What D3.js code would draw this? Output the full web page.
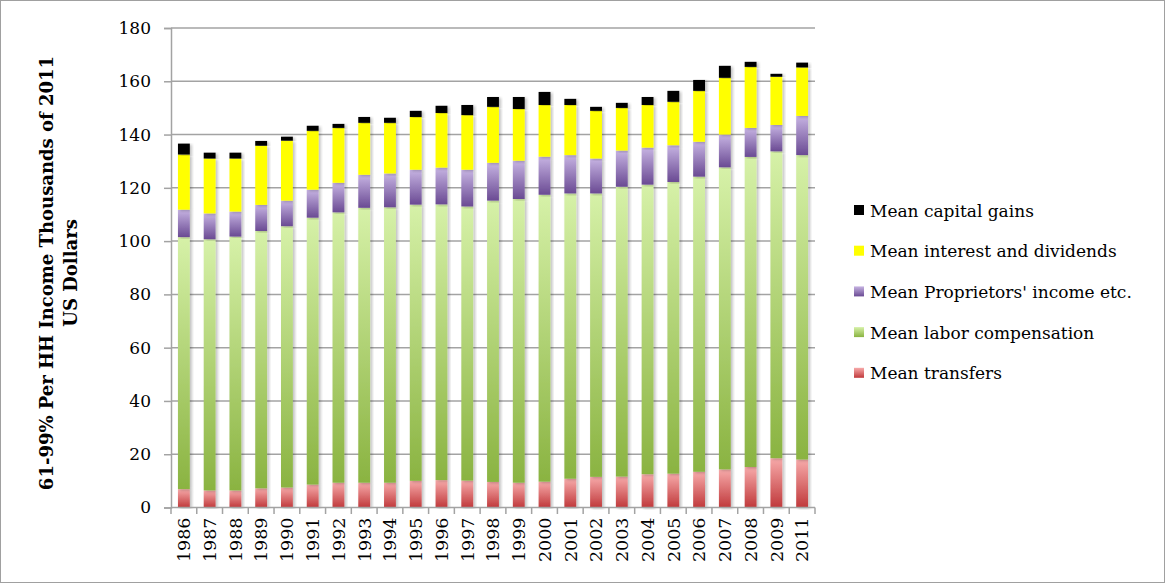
<!DOCTYPE html>
<html><head><meta charset="utf-8">
<script src="https://cdn.jsdelivr.net/npm/d3@7"></script>
<style>body{margin:0;background:#fff}svg{display:block}text{font-family:"DejaVu Serif",serif;fill:#000}</style>
</head><body><svg id="c" width="1166" height="584"></svg>
<script>
const years=["1986","1987","1988","1989","1990","1991","1992","1993","1994","1995","1996","1997","1998","1999","2000","2001","2002","2003","2004","2005","2006","2007","2008","2009","2011"];
const transfers=[6.9,6.4,6.4,7.2,7.5,8.6,9.3,9.3,9.3,10.0,10.3,10.1,9.6,9.3,9.7,10.8,11.5,11.6,12.5,12.7,13.4,14.3,15.2,18.5,18.0];
const labor=[94.6,94.3,95.3,96.6,98.1,100.2,101.5,103.2,103.4,103.7,103.5,102.9,105.6,106.5,107.7,107.1,106.4,108.8,108.7,109.5,110.8,113.4,116.4,115.2,114.3];
const proprietors=[10.3,9.7,9.4,9.8,9.6,10.5,11.1,12.4,12.7,13.1,13.8,13.8,14.2,14.4,14.3,14.4,13.1,13.6,13.9,13.8,13.1,12.3,10.9,9.9,14.7];
const interest=[20.7,20.6,19.9,22.2,22.5,22.1,20.6,19.5,19.0,19.8,20.5,20.5,21.0,19.4,19.4,18.8,17.9,16.0,16.0,16.3,19.1,21.3,22.9,18.1,18.2];
const capgains=[4.1,2.2,2.2,1.8,1.5,1.9,1.5,2.2,1.9,2.3,2.7,3.8,3.7,4.5,4.9,2.3,1.5,1.9,3.0,4.1,4.1,4.5,1.9,1.1,1.8];
const yTicks=[0,20,40,60,80,100,120,140,160,180];
const seriesNames=["Mean transfers","Mean labor compensation","Mean Proprietors' income etc.","Mean interest and dividends","Mean capital gains"];
const seriesKeys=["transfers","labor","proprietors","interest","capgains"];
const yTitle=["61-99% Per HH Income Thousands of 2011","US Dollars"];

const fills={transfers:["#f7aaaa","#c0393b"],labor:["#d6f1a8","#8ab341"],proprietors:["#c6b3e2","#6a4a93"],interest:["#ffff00","#ffff00"],capgains:["#000000","#000000"]};

const rows=years.map((y,i)=>({year:y,transfers:transfers[i],labor:labor[i],proprietors:proprietors[i],interest:interest[i],capgains:capgains[i]}));
const stack=d3.stack().keys(seriesKeys)(rows);

const svg=d3.select("#c");
const defs=svg.append("defs");
seriesKeys.forEach(k=>{
  const g=defs.append("linearGradient").attr("id","g-"+k).attr("x1",0).attr("y1",0).attr("x2",0).attr("y2",1);
  g.append("stop").attr("offset","0%").attr("stop-color",fills[k][0]);
  g.append("stop").attr("offset","100%").attr("stop-color",fills[k][1]);
});
const f=defs.append("filter").attr("id","sh").attr("x","-30%").attr("y","-5%").attr("width","160%").attr("height","110%");
f.append("feDropShadow").attr("dx",2).attr("dy",1).attr("stdDeviation",1.5).attr("flood-color","#000").attr("flood-opacity",0.25);

svg.append("rect").attr("x",0.5).attr("y",0.5).attr("width",1164).attr("height",582).attr("fill","none").attr("stroke","#a0a0a0").attr("stroke-width",1);

const x=d3.scaleBand().domain(years).range([171,815]).paddingInner(0.54).paddingOuter(0.27);
const y=d3.scaleLinear().domain([0,180]).range([507.5,28]);
const grid="#a3a3a3";

svg.append("g").selectAll("line").data(yTicks.filter(t=>t>0)).join("line")
  .attr("x1",171).attr("x2",815).attr("y1",d=>y(d)).attr("y2",d=>y(d))
  .attr("stroke",grid).attr("stroke-width",1.5);

const ya=svg.append("g").attr("transform","translate(171,0)")
  .call(d3.axisLeft(y).tickValues(yTicks).tickSize(7).tickPadding(13).tickFormat(d3.format("d")));
ya.select(".domain").attr("stroke",grid).attr("stroke-width",1.5);
ya.selectAll(".tick line").attr("stroke",grid).attr("stroke-width",1.5);
ya.selectAll("text").style("font-size","17px").style("font-family","DejaVu Serif");

const layers=svg.append("g").selectAll("g").data(stack).join("g").attr("fill",d=>"url(#g-"+d.key+")");
layers.selectAll("rect").data(d=>d).join("rect")
  .attr("x",d=>x(d.data.year)).attr("width",x.bandwidth())
  .attr("y",d=>y(d[1])).attr("height",d=>y(d[0])-y(d[1]))
  .attr("filter","url(#sh)");

const xa=svg.append("g").attr("transform","translate(0,507.5)")
  .call(d3.axisBottom(x).tickSize(0).tickPadding(0));
xa.select(".domain").attr("stroke",grid).attr("stroke-width",1.5).attr("d","M171,0H815");
xa.selectAll(".tick text").attr("transform","rotate(-90)").attr("x",-10).attr("y",0).attr("dy","0.36em")
  .attr("text-anchor","end").style("font-size","17.5px").style("font-family","DejaVu Serif");
svg.append("g").selectAll("line").data(d3.range(years.length+1)).join("line")
  .attr("x1",i=>171+i*(644/years.length)).attr("x2",i=>171+i*(644/years.length))
  .attr("y1",507.5).attr("y2",514).attr("stroke",grid).attr("stroke-width",1.5);

const yt=svg.append("text").attr("transform","translate(53,273) rotate(-90)").attr("text-anchor","middle")
  .style("font-weight","bold").style("font-size","18px");
yt.append("tspan").attr("x",0).attr("y",0).text(yTitle[0]);
yt.append("tspan").attr("x",0).attr("y",24).text(yTitle[1]);

const legendOrder=[4,3,2,1,0];
const lg=svg.append("g");
legendOrder.forEach((si,j)=>{
  const cy=210+j*40.7;
  lg.append("rect").attr("x",854).attr("y",cy-5).attr("width",10).attr("height",10).attr("fill","url(#g-"+seriesKeys[si]+")");
  lg.append("text").attr("x",870).attr("y",cy+6.5).style("font-size","17px").text(seriesNames[si]);
});
</script></body></html>
